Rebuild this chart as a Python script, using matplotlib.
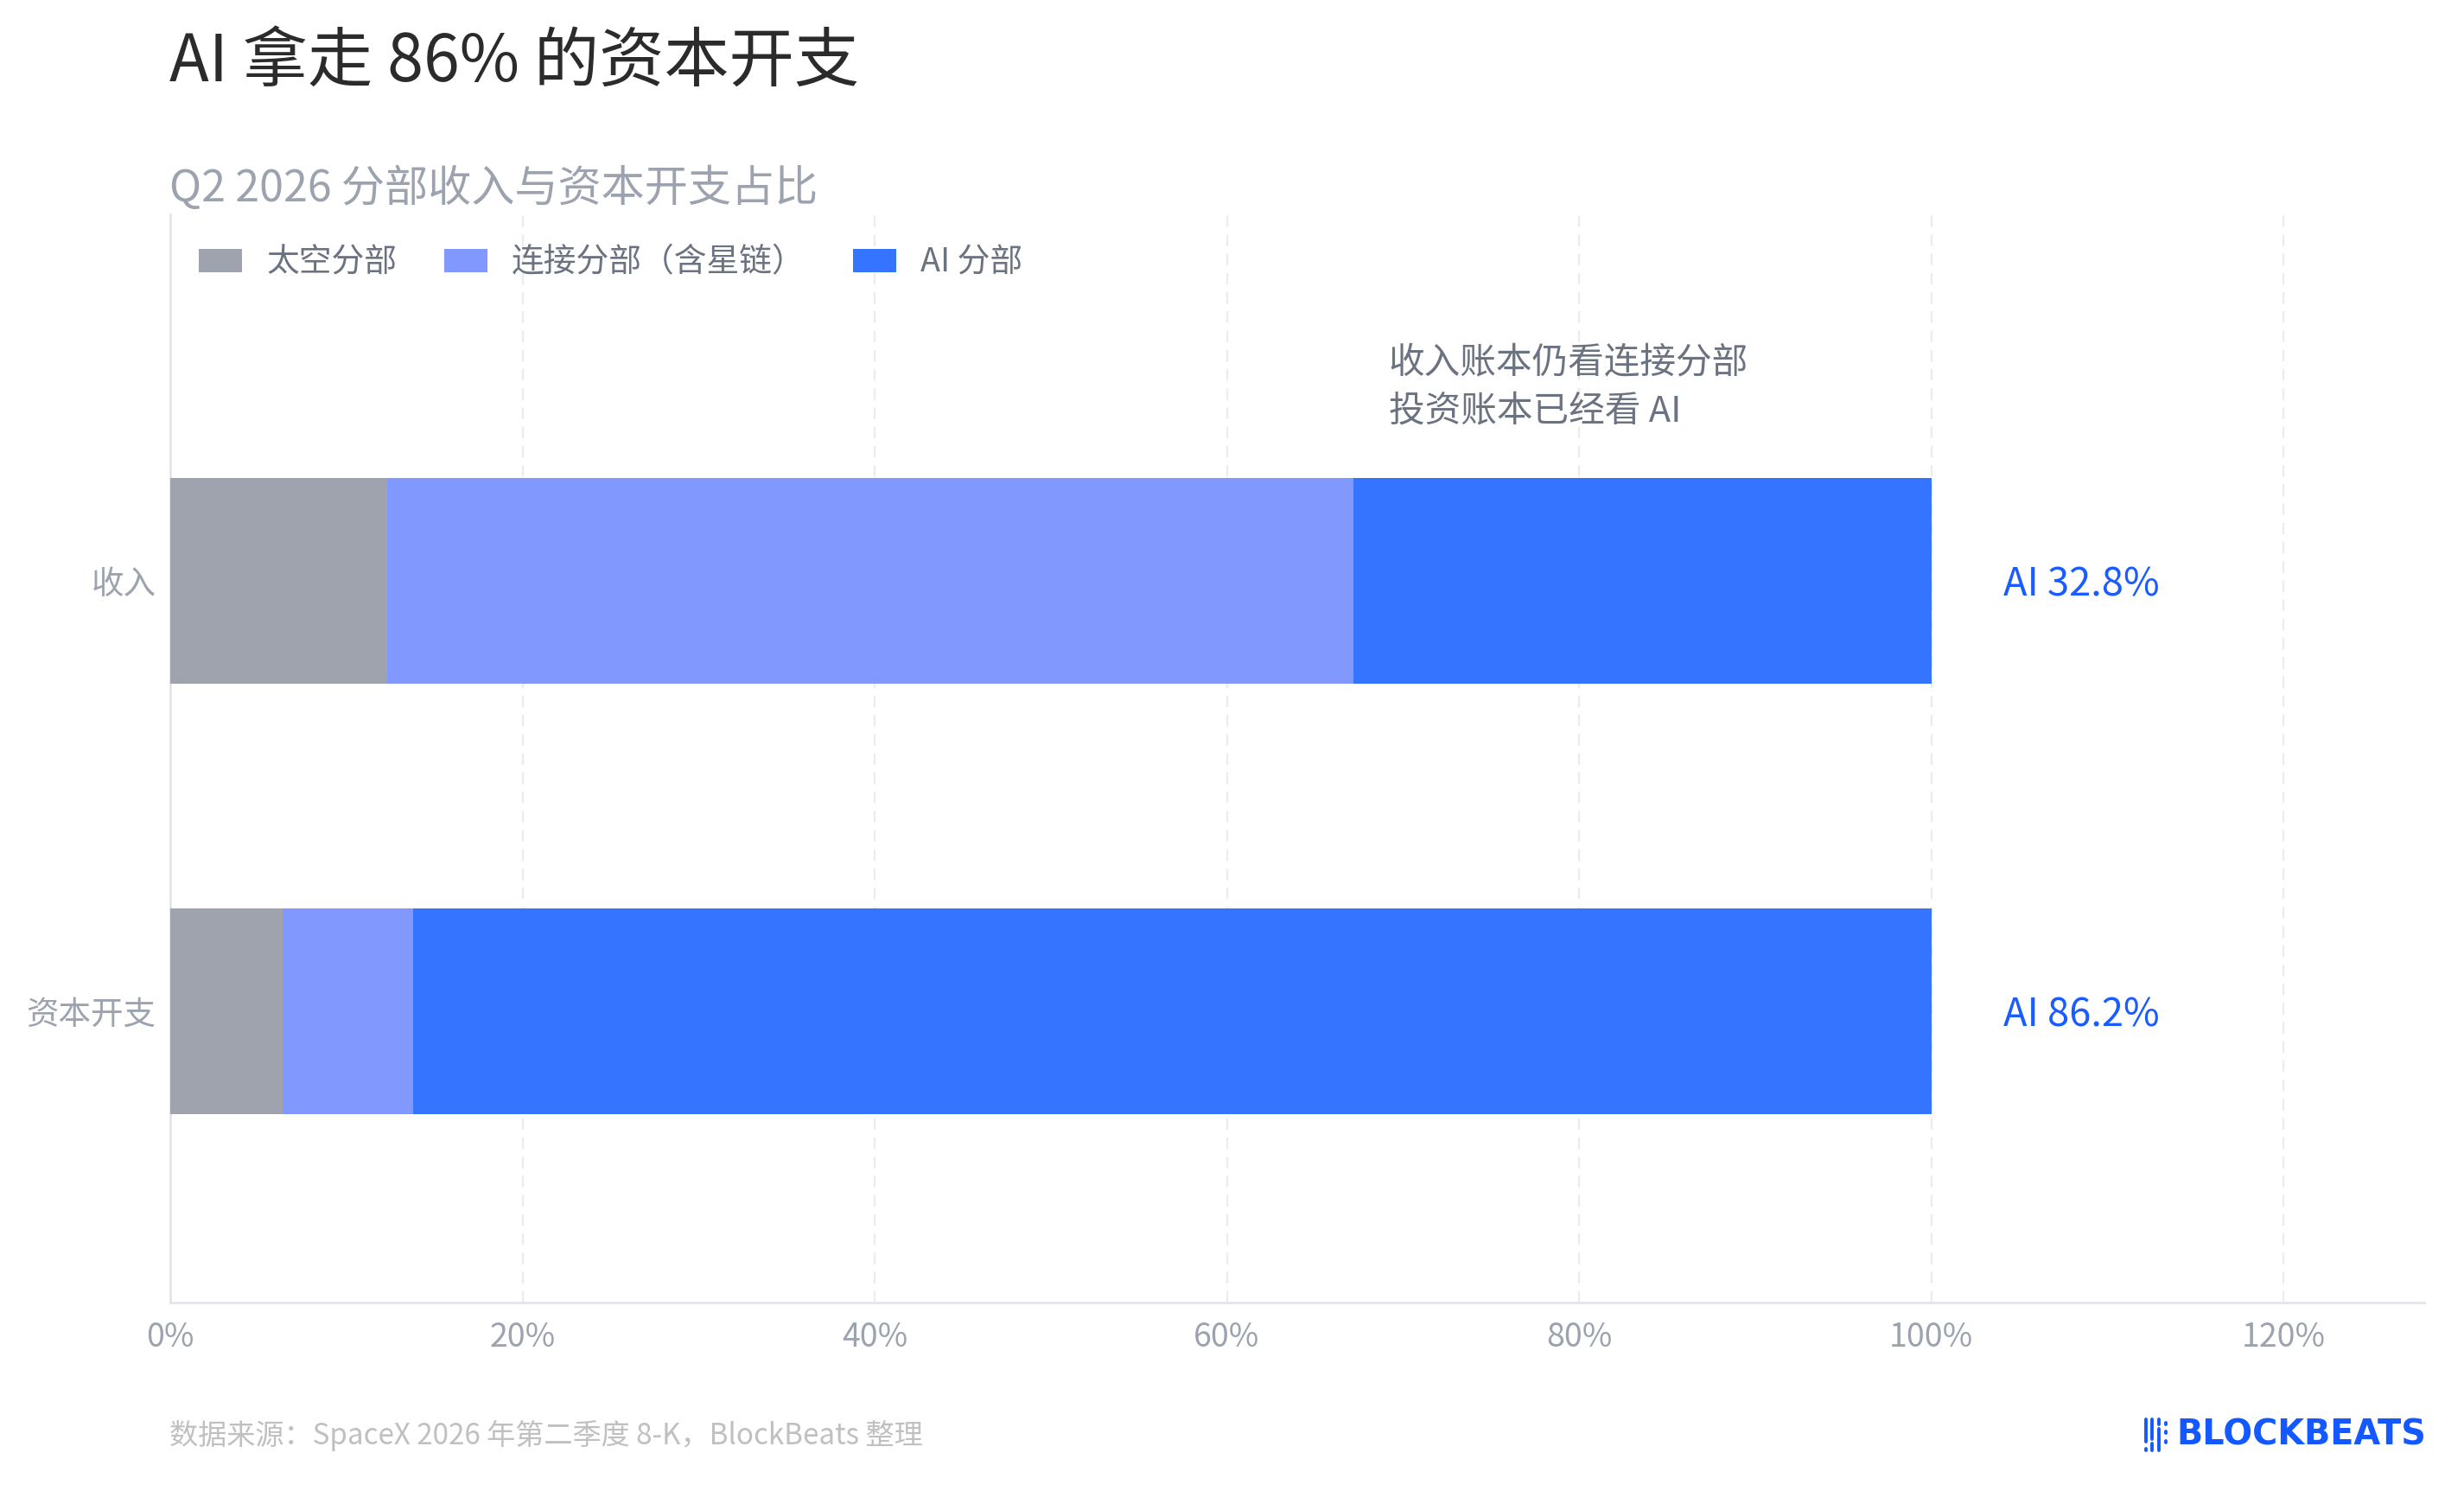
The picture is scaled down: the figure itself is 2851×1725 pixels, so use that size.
import matplotlib
matplotlib.use("Agg")
import matplotlib.pyplot as plt
from matplotlib.lines import Line2D

plt.rcParams['font.family'] = ['Noto Sans CJK SC', 'DejaVu Sans']

# 数据（百分比）
categories = ["收入", "资本开支"]
space = [12.3, 6.4]
connect = [54.9, 7.4]
ai = [32.8, 86.2]
series_names = ["太空分部", "连接分部（含星链）", "AI 分部"]
colors = ["#9ea3ae", "#8199ff", "#3474ff"]
xticks = [0, 20, 40, 60, 80, 100, 120]
ai_labels = ["AI 32.8%", "AI 86.2%"]

W, H = 2851, 1725
fig = plt.figure(figsize=(W / 200, H / 200), dpi=200)
ax = fig.add_axes([197 / W, 1 - 1507 / H, (2805 - 197) / W, (1507 - 248) / H])

y = list(range(len(categories)))
left = [0] * len(categories)
for vals, name, c in zip([space, connect, ai], series_names, colors):
    ax.barh(y, vals, left=left, height=0.478, color=c, label=name, zorder=3)
    left = [l + v for l, v in zip(left, vals)]

ax.set_xlim(0, 128)
ax.set_ylim(1.677, -0.851)
ax.set_yticks(y)
ax.set_yticklabels(categories)
ax.set_xticks(xticks)
ax.set_xticklabels([f"{t}%" for t in xticks])
ax.tick_params(length=0, labelsize=13.5, colors="#9ca3af")
ax.tick_params(axis="y", pad=6)
ax.tick_params(axis="x", pad=7.5)
ax.grid(axis="x", color="#ececec", linestyle=(0, (6, 4)), linewidth=0.8, zorder=0)
for s in ["top", "right"]:
    ax.spines[s].set_visible(False)
for s in ["left", "bottom"]:
    ax.spines[s].set_color("#e3e5ea")
    ax.spines[s].set_linewidth(1.0)

# AI 占比标注
for yi, t in zip(y, ai_labels):
    ax.text(104.1, yi + 0.01, t, color="#1a5cff", fontsize=16.3, va="center", ha="left")

ax.text(69.2, -0.545, "收入账本仍看连接分部\n投资账本已经看 AI", color="#6b7280",
        fontsize=15, va="top", ha="left", linespacing=1.43)

leg = fig.legend(loc="center left", bbox_to_anchor=(230 / W, 1 - 304 / H), ncol=3,
                 frameon=False, fontsize=13.6, handlelength=1.32, handleheight=0.7,
                 handletextpad=0.75, columnspacing=1.45, borderpad=0, borderaxespad=0)
for t in leg.get_texts():
    t.set_color("#6b7280")

fig.text(196 / W, 1 - 72 / H, "AI 拿走 86% 的资本开支", fontsize=27.1, color="#2b2b2b",
         va="center", ha="left", fontweight="medium")
fig.text(196 / W, 1 - 219 / H, "Q2 2026 分部收入与资本开支占比", fontsize=18.05,
         color="#9ca3af", va="center", ha="left")
fig.text(196 / W, 1 - 1661 / H, "数据来源：SpaceX 2026 年第二季度 8-K，BlockBeats 整理",
         fontsize=11.95, color="#c0c0c0", va="center", ha="left")

# logo
fig.text(2807 / W, 1 - 1660 / H, "BLOCKBEATS", fontsize=14.3, color="#1458ff",
         va="center", ha="right", family="DejaVu Sans", fontweight="bold")
logo_bars = [(2483, 1642, 1668), (2483, 1676, 1678), (2490, 1642, 1665), (2490, 1670, 1678),
             (2498, 1642, 1648), (2498, 1653, 1678), (2506, 1646, 1648), (2506, 1656, 1658),
             (2506, 1667, 1669)]
for bx, y0, y1 in logo_bars:
    fig.add_artist(Line2D([bx / W, bx / W], [1 - y0 / H, 1 - y1 / H], color="#1458ff",
                          linewidth=1.4, solid_capstyle="round", transform=fig.transFigure))

fig.savefig("out.png", dpi=200, facecolor="white")
